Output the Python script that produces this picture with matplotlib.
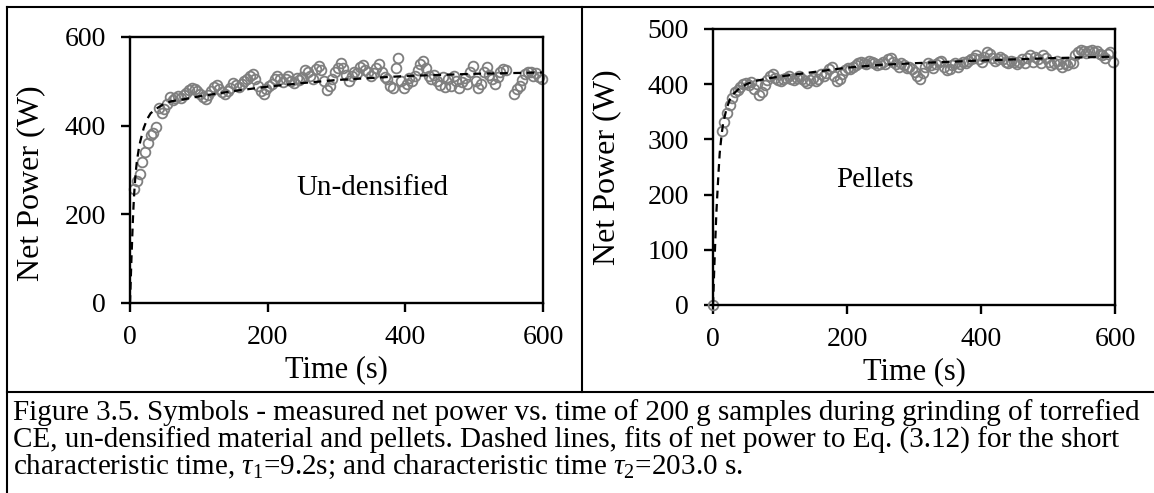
import numpy as np
import matplotlib
matplotlib.use('Agg')
from matplotlib import pyplot as plt
from matplotlib.lines import Line2D

plt.rcParams['font.family'] = ['Liberation Serif', 'DejaVu Serif']
plt.rcParams['mathtext.fontset'] = 'custom'
plt.rcParams['mathtext.rm'] = 'Liberation Serif'
plt.rcParams['mathtext.it'] = 'Liberation Serif:italic'

# un-densified: measured net power (W), sampled every 4 s, gap around 550 s
t_und = np.r_[np.arange(6, 550, 4), np.arange(558, 600, 4)]
p_und = [257, 275, 292, 318, 340, 362, 378, 384, 398, 440,
         428, 438, 450, 465, 458, 462, 468, 462, 470, 474,
         480, 486, 482, 478, 472, 465, 460, 470, 478, 488,
         492, 482, 476, 472, 478, 485, 496, 492, 488, 494,
         500, 505, 512, 516, 505, 490, 478, 472, 482, 490,
         495, 505, 512, 505, 498, 506, 512, 500, 496, 508,
         502, 510, 526, 520, 512, 505, 528, 534, 526, 500,
         480, 490, 505, 520, 530, 542, 530, 515, 500, 512,
         520, 518, 532, 536, 525, 520, 512, 518, 530, 538,
         520, 510, 505, 490, 484, 530, 552, 500, 485, 495,
         508, 500, 512, 525, 540, 545, 530, 512, 505, 515,
         500, 492, 510, 488, 505, 490, 512, 500, 485, 498,
         508, 495, 520, 535, 500, 485, 495, 520, 532, 515,
         505, 495, 510, 522, 528, 525,
         472, 482, 490, 502, 516, 522, 520, 512, 518, 510, 505]

# pellets: measured net power (W)
t_pel = np.r_[0, np.arange(13, 600, 4)]
p_pel = [0,
         315, 332, 348, 362, 375, 386, 390, 395, 400, 402,
         398, 404, 392, 400, 380, 385, 398, 408, 415, 418,
         412, 408, 405, 410, 412, 415, 410, 408, 412, 415,
         410, 406, 402, 408, 412, 405, 410, 418, 415, 420,
         428, 432, 415, 405, 410, 418, 425, 430, 428, 432,
         435, 438, 440, 438, 436, 442, 440, 438, 435, 437,
         440, 436, 445, 448, 440, 436, 432, 438, 435, 430,
         432, 428, 422, 415, 410, 420, 432, 438, 435, 430,
         436, 440, 442, 432, 425, 428, 434, 438, 432, 436,
         440, 438, 442, 445, 448, 452, 446, 440, 450, 458,
         455, 448, 442, 446, 450, 445, 440, 438, 442, 440,
         436, 440, 445, 438, 448, 452, 440, 450, 445, 438,
         452, 448, 440, 435, 438, 442, 436, 432, 438, 435,
         440, 438, 452, 458, 462, 460, 456, 460, 462, 458,
         460, 455, 452, 448, 455, 458, 440]

# dashed fit curves
t_fit = [0, 2, 4, 5, 6, 8, 10, 13, 15, 20, 25, 30, 40, 50, 60, 80, 100,
         150, 200, 250, 300, 400, 500, 600]
fit_und = [0, 95, 180, 215, 245, 290, 320, 350, 365, 395, 415, 428, 440,
           450, 455, 460, 466, 478, 488, 496, 503, 512, 517, 520]
fit_pel = [0, 70, 135, 166, 190, 235, 275, 310, 328, 355, 372, 382, 393,
           400, 405, 410, 414, 422, 430, 435, 438, 443, 447, 450]

caption = ["Figure 3.5. Symbols - measured net power vs. time of 200 g samples during grinding of torrefied",
           "CE, un-densified material and pellets. Dashed lines, fits of net power to Eq. (3.12) for the short",
           r"characteristic time, $\tau_1$=9.2s; and characteristic time $\tau_2$=203.0 s."]

W, H = 1154, 493
fig = plt.figure(figsize=(W / 100, H / 100), dpi=100)


def panel(rect, t, p, fit, ymax, ystep, label, lx, ly, ylab_xy, xlab_y):
    ax = fig.add_axes([rect[0] / W, 1 - rect[3] / H, (rect[2] - rect[0]) / W,
                       (rect[3] - rect[1]) / H])
    ax.plot(t, p, 'o', ms=7, mfc='none', mec='#7f7f7f', mew=1.3, zorder=2,
            clip_on=False)
    ax.plot(t_fit, fit, '--', color='black', lw=1.6, dashes=(3.5, 2.5), zorder=3)
    ax.set_xlim(0, 600)
    ax.set_ylim(0, ymax)
    ax.set_xticks([0, 200, 400, 600])
    ax.set_yticks(np.arange(0, ymax + 1, ystep))
    for s in ax.spines.values():
        s.set_linewidth(1.7)
    ax.tick_params(direction='out', length=6.5, width=1.7, labelsize=20)
    ax.tick_params(axis='x', pad=9)
    ax.tick_params(axis='y', pad=11)
    ax.set_xlabel('Time (s)', fontsize=22)
    ax.set_ylabel('Net Power (W)', fontsize=23)
    ax.yaxis.set_label_coords(*ylab_xy)
    ax.xaxis.set_label_coords(0.5, xlab_y)
    ax.text(lx, ly, label, fontsize=21, ha='center', va='center')
    return ax


panel((130, 37, 543, 303), t_und, p_und, fit_und, 600, 200, 'Un-densified',
      352, 259, (-0.205, 0.45), -0.195)
panel((713, 29, 1115, 305), t_pel, p_pel, fit_pel, 500, 100, 'Pellets',
      242, 226, (-0.229, 0.5), -0.19)

# table borders
lw = 1.5
fig.add_artist(Line2D([7 / W, 1], [1 - 7 / H] * 2, color='black', lw=lw))
fig.add_artist(Line2D([7 / W] * 2, [0, 1 - 7 / H], color='black', lw=lw))
fig.add_artist(Line2D([582 / W] * 2, [1 - 392 / H, 1 - 7 / H], color='black', lw=lw))
fig.add_artist(Line2D([7 / W, 1], [1 - 392 / H] * 2, color='black', lw=lw))

for i, line in enumerate(caption):
    fig.text(13 / W, 1 - (413 + 27 * i) / H, line, fontsize=21, va='center', ha='left')

fig.savefig('out.png', dpi=100)
